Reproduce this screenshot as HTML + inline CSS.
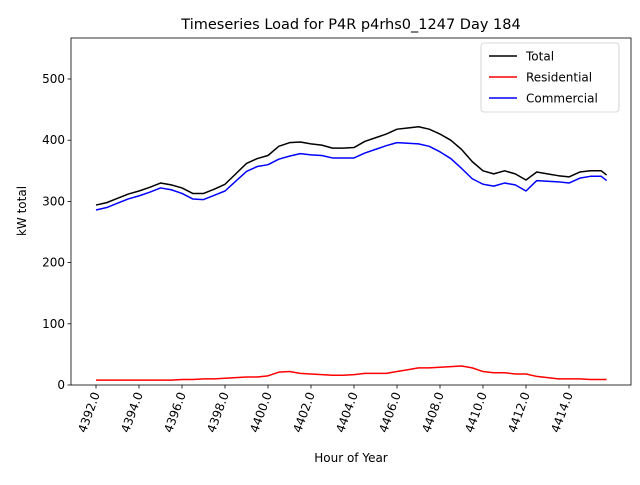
<!DOCTYPE html>
<html><head><meta charset="utf-8"><style>
body{margin:0;background:#fff;}
text{font-family:"DejaVu Sans","Liberation Sans",sans-serif;fill:#000;}
</style></head><body>
<svg id="chart" width="640" height="480">
<rect x="0" y="0" width="640" height="480" fill="#fff"/>
<text x="351" y="29" font-size="14.5" text-anchor="middle">Timeseries Load for P4R p4rhs0_1247  Day 184</text>
<text x="351" y="462" font-size="12" text-anchor="middle">Hour of Year</text>
<text transform="translate(26,211) rotate(-90)" font-size="12" text-anchor="middle">kW total</text>
<g id="plot"></g>
</svg>
<script>
const hours=[4392,4392.5,4393,4393.5,4394,4394.5,4395,4395.5,4396,4396.5,4397,4397.5,4398,4398.5,4399,4399.5,4400,4400.5,4401,4401.5,4402,4402.5,4403,4403.5,4404,4404.5,4405,4405.5,4406,4406.5,4407,4407.5,4408,4408.5,4409,4409.5,4410,4410.5,4411,4411.5,4412,4412.5,4413,4413.5,4414,4414.5,4415,4415.5,4415.75];
const total=[294,298,305,312,317,323,330,327,322,313,313,320,328,345,362,370,375,390,396,397,394,392,387,387,388,398,404,410,418,420,422,418,410,400,385,365,350,345,350,345,335,348,345,342,340,348,350,350,343];
const residential=[8,8,8,8,8,8,8,8,9,9,10,10,11,12,13,13,15,21,22,19,18,17,16,16,17,19,19,19,22,25,28,28,29,30,31,28,22,20,20,18,18,14,12,10,10,10,9,9,9];
const commercial=[286,290,297,304,309,315,322,319,313,304,303,310,317,333,349,357,360,369,374,378,376,375,371,371,371,379,385,391,396,395,394,390,381,370,354,337,328,325,330,327,317,334,333,332,330,338,341,341,334];
const yTicks=[0,100,200,300,400,500];
const xTicks=[4392,4394,4396,4398,4400,4402,4404,4406,4408,4410,4412,4414];
const seriesNames=["Total","Residential","Commercial"];
const seriesColors=["#000000","#ff0000","#0000ff"];

const L=71,R=631,T=38,B=385;
const xs=h=>96+(h-4392)*21.5;
const ys=v=>B-v*0.612;
const NS="http://www.w3.org/2000/svg";
const g=document.getElementById('plot');
function mk(t,a){const e=document.createElementNS(NS,t);for(const k in a)e.setAttribute(k,a[k]);g.appendChild(e);return e;}

yTicks.forEach(v=>{
 const t=mk('line',{x1:L-3.5,x2:L,y1:ys(v),y2:ys(v),stroke:'#000','stroke-width':0.8});
 
 
 const l=mk('text',{x:L-6,y:ys(v)+4,'font-size':12,'text-anchor':'end'});
 l.textContent=v;
 
 
});
xTicks.forEach(h=>{
 const t=mk('line',{x1:xs(h),x2:xs(h),y1:B,y2:B+3.5,stroke:'#000','stroke-width':0.8});
 
 
 const l=mk('text',{transform:`translate(${xs(h)+4},${B+9}) rotate(-70)`,'font-size':12,'text-anchor':'end'});
 l.textContent=h.toFixed(1);
 
 
});

[total,residential,commercial].forEach((arr,i)=>{
 const p=mk('polyline',{points:arr.map((v,j)=>xs(hours[j])+','+ys(v)).join(' '),fill:'none',stroke:seriesColors[i],'stroke-width':1.5,'stroke-linejoin':'round'});
 
 
});

const frame=mk('rect',{x:L,y:T,width:R-L,height:B-T,fill:'none',stroke:'#000','stroke-width':0.8});



const lg=mk('rect',{x:481,y:43,width:138,height:69,rx:3,fill:'#fff','fill-opacity':0.8,stroke:'#ccc','stroke-width':0.8});


seriesNames.forEach((n,i)=>{
 const y=56+i*21;
 const ln=mk('line',{x1:489,x2:517,y1:y,y2:y,stroke:seriesColors[i],'stroke-width':1.5});
 
 
 const t=mk('text',{x:526,y:y+4.5,'font-size':12});
 t.textContent=n;
 
 
});
</script>
</body></html>
